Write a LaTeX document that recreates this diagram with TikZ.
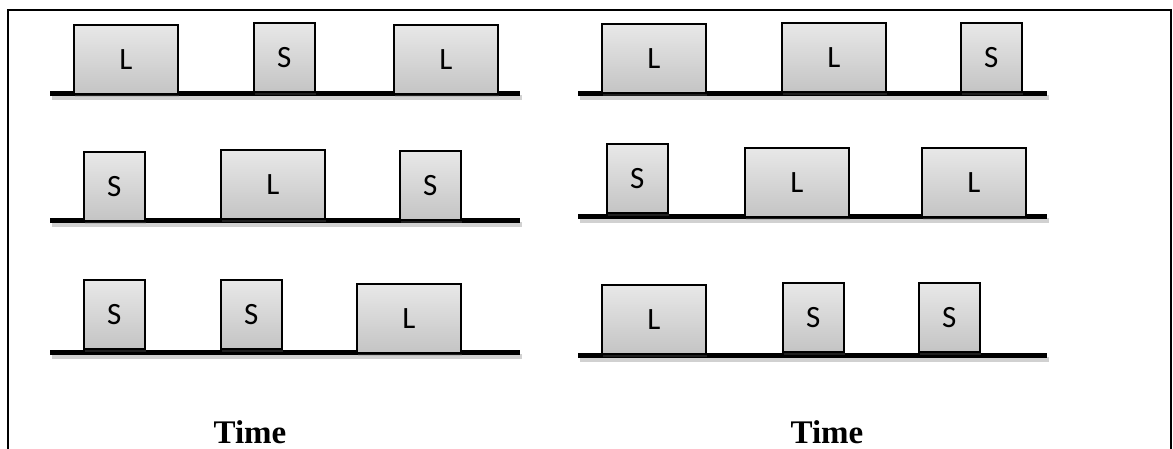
\documentclass[tikz,border=0pt]{standalone}
\usepackage{fontspec}
\setmainfont{Liberation Serif}
\newfontfamily\boxfont{Carlito}
\usetikzlibrary{shadows}
\definecolor{boxtop}{HTML}{E8E8E8}
\definecolor{boxbot}{HTML}{C4C4C4}
\tikzset{
  jobbox/.style={draw=black, line width=1.6pt, top color=boxtop, bottom color=boxbot,
    anchor=north west, inner sep=0pt, font=\boxfont\fontsize{31}{35}\selectfont,
    drop shadow={opacity=0.25, shadow xshift=1pt, shadow yshift=-3pt}},
  lbox/.style={jobbox, minimum width=104pt, minimum height=69pt},
  sbox/.style={jobbox, minimum width=61pt, minimum height=69pt},
  tline/.style={line width=5pt, black},
  tshadow/.style={line width=5pt, black, opacity=0.18},
  frame/.style={line width=2.5pt, black},
  timelabel/.style={anchor=base, font=\bfseries\fontsize{33}{38}\selectfont}
}
\begin{document}
\begin{tikzpicture}[x=1pt,y=-1pt]
\useasboundingbox (0,0) rectangle (1173,448);
\fill[white] (0,0) rectangle (1173,448);
\draw[frame] (8,452) -- (8,10) -- (1171,10) -- (1171,452);
% timelines with soft shadow
\foreach \xa/\xb/\yy in {50/520/93, 578/1047/93, 50/520/220, 578/1047/216, 50/520/352, 578/1047/355}{
  \draw[tshadow] (\xa+2,\yy+4) -- (\xb+2,\yy+4);
  \draw[tline] (\xa,\yy) -- (\xb,\yy);
}
% row 1 left
\node[lbox] (a1) at (73,24) {L};
\node[sbox] (a2) at (253,22) {S};
\node[lbox] (a3) at (393,24) {L};
% row 1 right
\node[lbox] (b1) at (601,23) {L};
\node[lbox] (b2) at (781,22) {L};
\node[sbox] (b3) at (960,22) {S};
% row 2 left
\node[sbox] (c1) at (83,151) {S};
\node[lbox] (c2) at (220,149) {L};
\node[sbox] (c3) at (399,150) {S};
% row 2 right
\node[sbox] (d1) at (606,143) {S};
\node[lbox] (d2) at (744,147) {L};
\node[lbox] (d3) at (921,147) {L};
% row 3 left
\node[sbox] (e1) at (83,279) {S};
\node[sbox] (e2) at (220,279) {S};
\node[lbox] (e3) at (356,283) {L};
% row 3 right
\node[lbox] (f1) at (601,284) {L};
\node[sbox] (f2) at (782,282) {S};
\node[sbox] (f3) at (918,282) {S};
% labels
\node[timelabel] (t1) at (250,443) {Time};
\node[timelabel] (t2) at (827,443) {Time};
\end{tikzpicture}
\end{document}
